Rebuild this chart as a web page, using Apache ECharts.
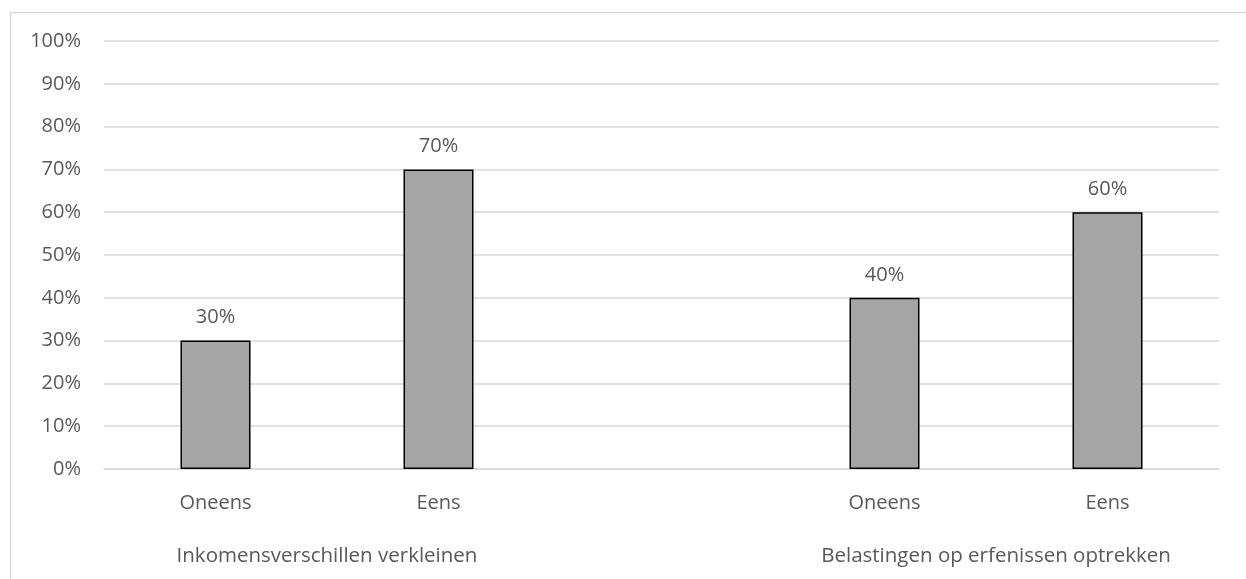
<!DOCTYPE html>
<html><head><meta charset="utf-8">
<script src="https://cdn.jsdelivr.net/npm/echarts@6/dist/echarts.min.js"></script>
<style>html,body{margin:0;padding:0;background:#fff}#c{width:1246px;height:579px}</style>
</head><body><div id="c"></div>
<script>
const categories = ['Oneens', 'Eens', '', 'Oneens', 'Eens'];
const values = [30, 70, null, 40, 60];
const groupLabels = ['', '', 'Inkomensverschillen verkleinen', '', '', '', '', '', 'Belastingen op erfenissen optrekken', '', ''];
const yTicks = [0, 10, 20, 30, 40, 50, 60, 70, 80, 90, 100];

const font = 'Open Sans';
const txt = '#595959';
const chart = echarts.init(document.getElementById('c'), null, {renderer: 'canvas'});
chart.setOption({
  animation: false,
  backgroundColor: '#fff',
  graphic: [
    {type: 'line', shape: {x1: 10.5, y1: 12, x2: 10.5, y2: 579}, style: {stroke: '#d9d9d9', lineWidth: 1.5}},
    {type: 'line', shape: {x1: 10, y1: 12.5, x2: 1246, y2: 12.5}, style: {stroke: '#d9d9d9', lineWidth: 1.5}}
  ],
  grid: {left: 104, right: 27, top: 41, bottom: 110, containLabel: false},
  xAxis: [
    {
      type: 'category', data: categories, position: 'bottom',
      axisLine: {show: true, lineStyle: {color: '#d9d9d9', width: 1.5}},
      axisTick: {show: false},
      axisLabel: {color: txt, fontFamily: font, fontSize: 20, margin: 24, interval: 0}
    },
    {
      type: 'category', data: groupLabels, position: 'bottom', boundaryGap: false, offset: 0,
      axisLine: {show: false}, axisTick: {show: false},
      axisLabel: {color: txt, fontFamily: font, fontSize: 20.5, margin: 77, interval: 0}
    }
  ],
  yAxis: {
    type: 'value', min: 0, max: 100, interval: 10,
    axisLine: {show: false}, axisTick: {show: false},
    splitLine: {lineStyle: {color: '#d9d9d9', width: 1.5}},
    axisLabel: {color: txt, fontFamily: font, fontSize: 20, margin: 23, formatter: v => yTicks.includes(v) ? v + '%' : ''}
  },
  series: [{
    type: 'bar', xAxisIndex: 0, data: values, barWidth: 70,
    itemStyle: {color: '#a5a5a5', borderColor: '#000', borderWidth: 1.5},
    label: {show: true, position: 'top', distance: 13, color: txt, fontFamily: font, fontSize: 20, formatter: p => p.value + '%'}
  }]
});
</script></body></html>
